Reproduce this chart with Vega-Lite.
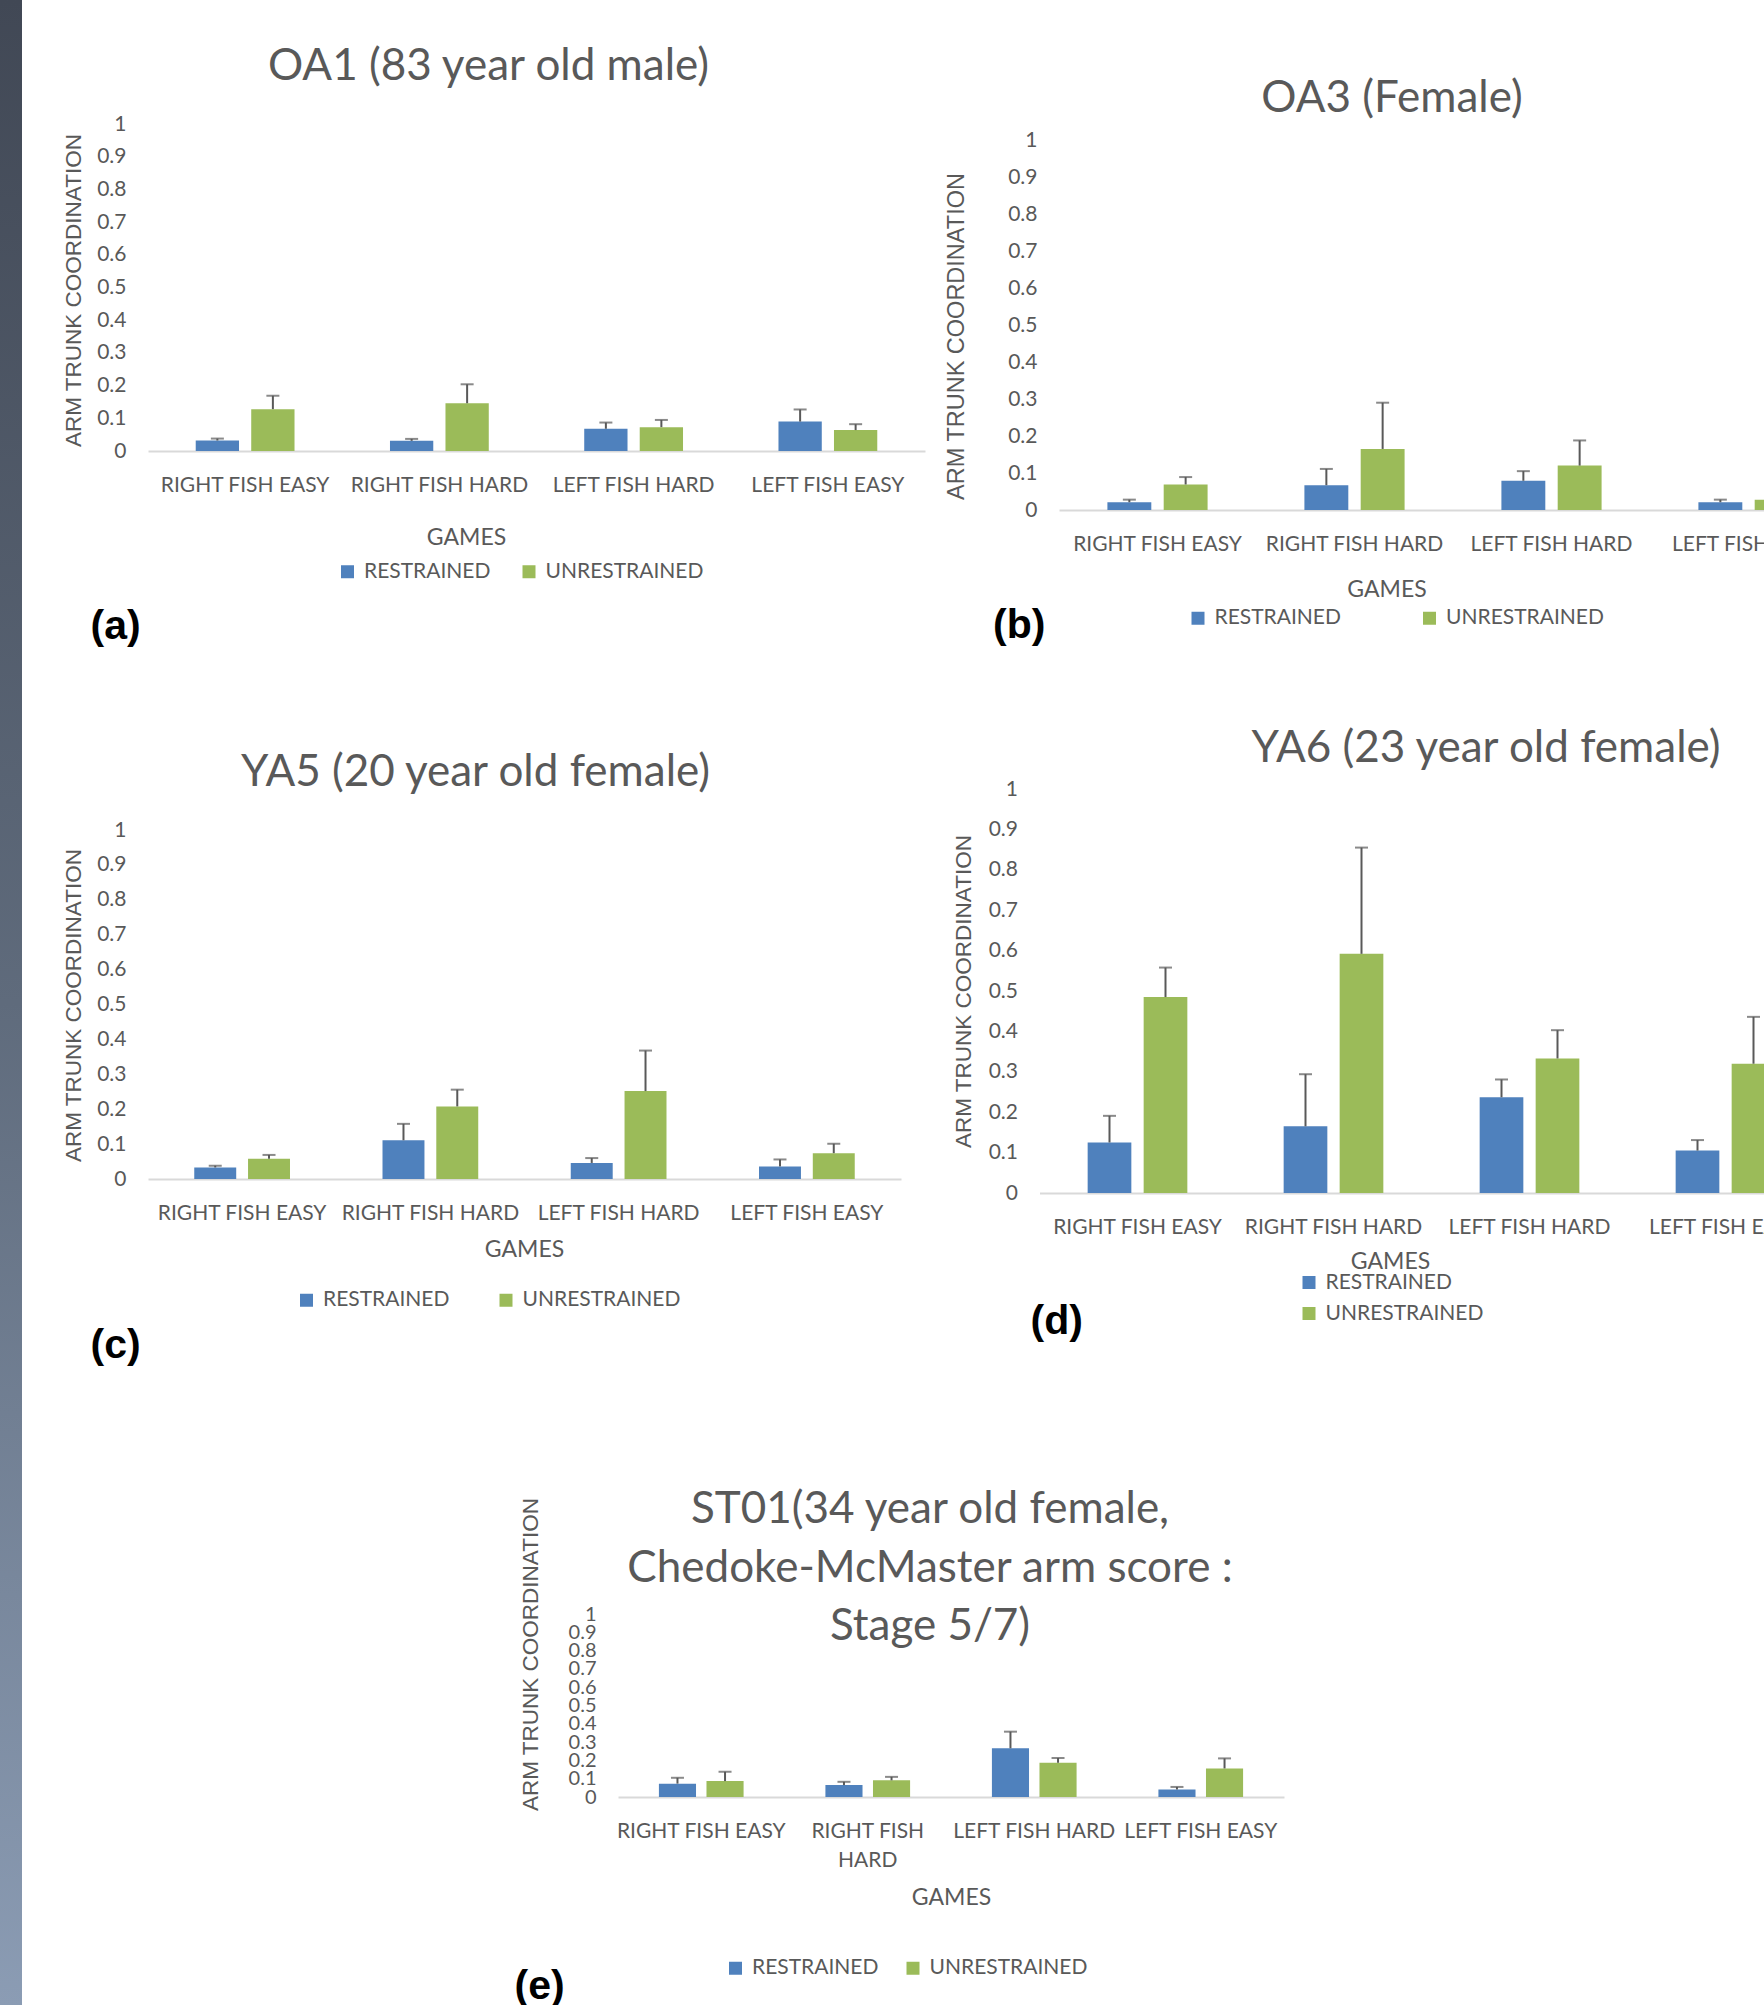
{
  "$schema": "https://vega.github.io/schema/vega-lite/v6.json",
  "padding": 0,
  "background": "white",
  "datasets": {
    "A": [
      {"game": "RIGHT FISH EASY", "cond": "RESTRAINED", "mean": 0.032, "upper": 0.038},
      {"game": "RIGHT FISH EASY", "cond": "UNRESTRAINED", "mean": 0.128, "upper": 0.169},
      {"game": "RIGHT FISH HARD", "cond": "RESTRAINED", "mean": 0.031, "upper": 0.037},
      {"game": "RIGHT FISH HARD", "cond": "UNRESTRAINED", "mean": 0.146, "upper": 0.204},
      {"game": "LEFT FISH HARD", "cond": "RESTRAINED", "mean": 0.068, "upper": 0.087},
      {"game": "LEFT FISH HARD", "cond": "UNRESTRAINED", "mean": 0.073, "upper": 0.095},
      {"game": "LEFT FISH EASY", "cond": "RESTRAINED", "mean": 0.090, "upper": 0.127},
      {"game": "LEFT FISH EASY", "cond": "UNRESTRAINED", "mean": 0.064, "upper": 0.082}
    ],
    "B": [
      {"game": "RIGHT FISH EASY", "cond": "RESTRAINED", "mean": 0.021, "upper": 0.028},
      {"game": "RIGHT FISH EASY", "cond": "UNRESTRAINED", "mean": 0.069, "upper": 0.089},
      {"game": "RIGHT FISH HARD", "cond": "RESTRAINED", "mean": 0.067, "upper": 0.111},
      {"game": "RIGHT FISH HARD", "cond": "UNRESTRAINED", "mean": 0.165, "upper": 0.290},
      {"game": "LEFT FISH HARD", "cond": "RESTRAINED", "mean": 0.079, "upper": 0.105},
      {"game": "LEFT FISH HARD", "cond": "UNRESTRAINED", "mean": 0.120, "upper": 0.188},
      {"game": "LEFT FISH EASY", "cond": "RESTRAINED", "mean": 0.021, "upper": 0.028},
      {"game": "LEFT FISH EASY", "cond": "UNRESTRAINED", "mean": 0.028, "upper": 0.035}
    ],
    "C": [
      {"game": "RIGHT FISH EASY", "cond": "RESTRAINED", "mean": 0.033, "upper": 0.038},
      {"game": "RIGHT FISH EASY", "cond": "UNRESTRAINED", "mean": 0.058, "upper": 0.069},
      {"game": "RIGHT FISH HARD", "cond": "RESTRAINED", "mean": 0.111, "upper": 0.158},
      {"game": "RIGHT FISH HARD", "cond": "UNRESTRAINED", "mean": 0.208, "upper": 0.256},
      {"game": "LEFT FISH HARD", "cond": "RESTRAINED", "mean": 0.046, "upper": 0.060},
      {"game": "LEFT FISH HARD", "cond": "UNRESTRAINED", "mean": 0.252, "upper": 0.368},
      {"game": "LEFT FISH EASY", "cond": "RESTRAINED", "mean": 0.036, "upper": 0.056},
      {"game": "LEFT FISH EASY", "cond": "UNRESTRAINED", "mean": 0.074, "upper": 0.101}
    ],
    "D": [
      {"game": "RIGHT FISH EASY", "cond": "RESTRAINED", "mean": 0.125, "upper": 0.191},
      {"game": "RIGHT FISH EASY", "cond": "UNRESTRAINED", "mean": 0.485, "upper": 0.558},
      {"game": "RIGHT FISH HARD", "cond": "RESTRAINED", "mean": 0.165, "upper": 0.294},
      {"game": "RIGHT FISH HARD", "cond": "UNRESTRAINED", "mean": 0.592, "upper": 0.855},
      {"game": "LEFT FISH HARD", "cond": "RESTRAINED", "mean": 0.237, "upper": 0.281},
      {"game": "LEFT FISH HARD", "cond": "UNRESTRAINED", "mean": 0.333, "upper": 0.403},
      {"game": "LEFT FISH EASY", "cond": "RESTRAINED", "mean": 0.105, "upper": 0.131},
      {"game": "LEFT FISH EASY", "cond": "UNRESTRAINED", "mean": 0.320, "upper": 0.436}
    ],
    "E": [
      {"game": "RIGHT FISH EASY", "cond": "RESTRAINED", "mean": 0.073, "upper": 0.105},
      {"game": "RIGHT FISH EASY", "cond": "UNRESTRAINED", "mean": 0.087, "upper": 0.138},
      {"game": "RIGHT FISH HARD", "cond": "RESTRAINED", "mean": 0.065, "upper": 0.083},
      {"game": "RIGHT FISH HARD", "cond": "UNRESTRAINED", "mean": 0.091, "upper": 0.110},
      {"game": "LEFT FISH HARD", "cond": "RESTRAINED", "mean": 0.266, "upper": 0.357},
      {"game": "LEFT FISH HARD", "cond": "UNRESTRAINED", "mean": 0.187, "upper": 0.213},
      {"game": "LEFT FISH EASY", "cond": "RESTRAINED", "mean": 0.041, "upper": 0.055},
      {"game": "LEFT FISH EASY", "cond": "UNRESTRAINED", "mean": 0.156, "upper": 0.211}
    ],
    "one": [{"s": 1}]
  },
  "bounds": "flush",
  "spacing": 0,
  "resolve": {"scale": {"color": "independent", "xOffset": "independent"}, "legend": {"color": "independent"}},
  "hconcat": [
    {
      "width": 22, "height": 2005,
      "data": {"name": "one"},
      "mark": {"type": "rect", "color": {"gradient": "linear", "x1": 0, "y1": 0, "x2": 0, "y2": 1, "stops": [{"offset": 0, "color": "#414855"}, {"offset": 0.5, "color": "#5f6b7c"}, {"offset": 1, "color": "#8b9cb4"}]}},
      "encoding": {}
    },
    {
      "columns": 2,
      "align": "each",
      "bounds": "flush",
      "spacing": {"row": 0, "column": 114.5},
      "resolve": {"scale": {"color": "independent", "xOffset": "independent"}, "legend": {"color": "independent"}},
      "concat": [
        {
          "width": 903, "height": 451,
          "data": {"name": "A"},
          "title": {"text": "OA1 (83 year old male)", "dx": 15, "offset": -88.5},
          "resolve": {"axis": {"x": "independent"}},
          "encoding": {
            "xOffset": {"field": "cond", "type": "nominal", "sort": ["RESTRAINED", "UNRESTRAINED"], "scale": {"paddingInner": 0.22, "paddingOuter": 0.86}},
            "y": {"field": "mean", "type": "quantitative", "title": "ARM TRUNK COORDINATION", "scale": {"domain": [0, 1], "nice": false, "range": [451, 124]}, "axis": {"offset": -126, "values": [0, 0.1, 0.2, 0.3, 0.4, 0.5, 0.6, 0.7, 0.8, 0.9, 1], "format": ".1~f", "titleX": -75, "titleY": 290}}
          },
          "layer": [
            {"mark": "bar", "encoding": {
              "x": {"field": "game", "type": "nominal", "sort": ["RIGHT FISH EASY", "RIGHT FISH HARD", "LEFT FISH HARD", "LEFT FISH EASY"], "scale": {"paddingInner": 0, "paddingOuter": 0, "range": [126, 903]}, "axis": {"title": "GAMES", "titleX": 444, "titleY": 86}},
              "color": {"field": "cond", "type": "nominal", "scale": {"domain": ["RESTRAINED", "UNRESTRAINED"], "range": ["#4F81BD", "#9BBB59"]}, "legend": {"title": null, "orient": "none", "legendX": 315, "legendY": 561, "direction": "horizontal", "columnPadding": 27.5}}
            }},
            {"mark": {"type": "rule", "color": "#595959", "strokeWidth": 2}, "encoding": {
              "x": {"field": "game", "type": "nominal", "sort": ["RIGHT FISH EASY", "RIGHT FISH HARD", "LEFT FISH HARD", "LEFT FISH EASY"], "axis": null},
              "y2": {"field": "upper"}
            }},
            {"mark": {"type": "tick", "color": "#595959", "thickness": 2, "size": 13}, "encoding": {
              "x": {"field": "game", "type": "nominal", "sort": ["RIGHT FISH EASY", "RIGHT FISH HARD", "LEFT FISH HARD", "LEFT FISH EASY"], "axis": {"orient": "bottom", "title": "(a)", "labels": false, "domain": false, "ticks": false, "titleX": 68, "titleY": 155, "titleFont": "Liberation Sans", "titleFontSize": 41, "titleFontWeight": "bold", "titleColor": "#000000", "titleBaseline": "top", "titleAlign": "left"}},
              "y": {"field": "upper", "type": "quantitative", "title": "ARM TRUNK COORDINATION"}
            }}
          ]
        },
        {
          "width": 808, "height": 510,
          "data": {"name": "B"},
          "title": {"text": "OA3 (Female)", "dx": -51.5, "offset": -121},
          "resolve": {"axis": {"x": "independent"}},
          "encoding": {
            "xOffset": {"field": "cond", "type": "nominal", "sort": ["RESTRAINED", "UNRESTRAINED"], "scale": {"paddingInner": 0.22, "paddingOuter": 0.86}},
            "y": {"field": "mean", "type": "quantitative", "title": "ARM TRUNK  COORDINATION", "scale": {"domain": [0, 1], "nice": false, "range": [510, 140]}, "axis": {"offset": -19.5, "values": [0, 0.1, 0.2, 0.3, 0.4, 0.5, 0.6, 0.7, 0.8, 0.9, 1], "format": ".1~f", "titleX": -103, "titleY": 336, "titleFontSize": 23.5}}
          },
          "layer": [
            {"mark": "bar", "encoding": {
              "x": {"field": "game", "type": "nominal", "sort": ["RIGHT FISH EASY", "RIGHT FISH HARD", "LEFT FISH HARD", "LEFT FISH EASY"], "scale": {"paddingInner": 0, "paddingOuter": 0, "range": [19.5, 807.5]}, "axis": {"title": "GAMES", "titleX": 347, "titleY": 79}},
              "color": {"field": "cond", "type": "nominal", "scale": {"domain": ["RESTRAINED", "UNRESTRAINED"], "range": ["#4F81BD", "#9BBB59"]}, "legend": {"title": null, "orient": "none", "legendX": 148, "legendY": 607.5, "direction": "horizontal", "columnPadding": 77.5}}
            }},
            {"mark": {"type": "rule", "color": "#595959", "strokeWidth": 2}, "encoding": {
              "x": {"field": "game", "type": "nominal", "sort": ["RIGHT FISH EASY", "RIGHT FISH HARD", "LEFT FISH HARD", "LEFT FISH EASY"], "axis": null},
              "y2": {"field": "upper"}
            }},
            {"mark": {"type": "tick", "color": "#595959", "thickness": 2, "size": 13}, "encoding": {
              "x": {"field": "game", "type": "nominal", "sort": ["RIGHT FISH EASY", "RIGHT FISH HARD", "LEFT FISH HARD", "LEFT FISH EASY"], "axis": {"orient": "bottom", "title": "(b)", "labels": false, "domain": false, "ticks": false, "titleX": -47, "titleY": 95, "titleFont": "Liberation Sans", "titleFontSize": 41, "titleFontWeight": "bold", "titleColor": "#000000", "titleBaseline": "top", "titleAlign": "left"}},
              "y": {"field": "upper", "type": "quantitative", "title": "ARM TRUNK  COORDINATION"}
            }}
          ]
        },
        {
          "width": 879, "height": 669,
          "data": {"name": "C"},
          "title": {"text": "YA5 (20 year old female)", "dx": 14, "offset": -284.5},
          "resolve": {"axis": {"x": "independent"}},
          "encoding": {
            "xOffset": {"field": "cond", "type": "nominal", "sort": ["RESTRAINED", "UNRESTRAINED"], "scale": {"paddingInner": 0.22, "paddingOuter": 0.86}},
            "y": {"field": "mean", "type": "quantitative", "title": "ARM TRUNK COORDINATION", "scale": {"domain": [0, 1], "nice": false, "range": [669, 320]}, "axis": {"offset": -126, "values": [0, 0.1, 0.2, 0.3, 0.4, 0.5, 0.6, 0.7, 0.8, 0.9, 1], "format": ".1~f", "titleX": -75, "titleY": 495}}
          },
          "layer": [
            {"mark": "bar", "encoding": {
              "x": {"field": "game", "type": "nominal", "sort": ["RIGHT FISH EASY", "RIGHT FISH HARD", "LEFT FISH HARD", "LEFT FISH EASY"], "scale": {"paddingInner": 0, "paddingOuter": 0, "range": [126, 879]}, "axis": {"title": "GAMES", "titleX": 502, "titleY": 70}},
              "color": {"field": "cond", "type": "nominal", "scale": {"domain": ["RESTRAINED", "UNRESTRAINED"], "range": ["#4F81BD", "#9BBB59"]}, "legend": {"title": null, "orient": "none", "legendX": 274, "legendY": 779.5, "direction": "horizontal", "columnPadding": 45.5}}
            }},
            {"mark": {"type": "rule", "color": "#595959", "strokeWidth": 2}, "encoding": {
              "x": {"field": "game", "type": "nominal", "sort": ["RIGHT FISH EASY", "RIGHT FISH HARD", "LEFT FISH HARD", "LEFT FISH EASY"], "axis": null},
              "y2": {"field": "upper"}
            }},
            {"mark": {"type": "tick", "color": "#595959", "thickness": 2, "size": 13}, "encoding": {
              "x": {"field": "game", "type": "nominal", "sort": ["RIGHT FISH EASY", "RIGHT FISH HARD", "LEFT FISH HARD", "LEFT FISH EASY"], "axis": {"orient": "bottom", "title": "(c)", "labels": false, "domain": false, "ticks": false, "titleX": 68, "titleY": 146, "titleFont": "Liberation Sans", "titleFontSize": 41, "titleFontWeight": "bold", "titleColor": "#000000", "titleBaseline": "top", "titleAlign": "left"}},
              "y": {"field": "upper", "type": "quantitative", "title": "ARM TRUNK COORDINATION"}
            }}
          ]
        },
        {
          "width": 784, "height": 683,
          "data": {"name": "D"},
          "title": {"text": "YA6 (23 year old female)", "dx": 54.5, "offset": -261},
          "resolve": {"axis": {"x": "independent"}},
          "encoding": {
            "xOffset": {"field": "cond", "type": "nominal", "sort": ["RESTRAINED", "UNRESTRAINED"], "scale": {"paddingInner": 0.22, "paddingOuter": 0.86}},
            "y": {"field": "mean", "type": "quantitative", "title": "ARM TRUNK COORDINATION", "scale": {"domain": [0, 1], "nice": false, "range": [683, 279]}, "axis": {"values": [0, 0.1, 0.2, 0.3, 0.4, 0.5, 0.6, 0.7, 0.8, 0.9, 1], "format": ".1~f", "titleX": -76, "titleY": 481}}
          },
          "layer": [
            {"mark": "bar", "encoding": {
              "x": {"field": "game", "type": "nominal", "sort": ["RIGHT FISH EASY", "RIGHT FISH HARD", "LEFT FISH HARD", "LEFT FISH EASY"], "scale": {"paddingInner": 0, "paddingOuter": 0, "range": [0, 784]}, "axis": {"title": "GAMES", "titleX": 350.5, "titleY": 68}},
              "color": {"field": "cond", "type": "nominal", "scale": {"domain": ["RESTRAINED", "UNRESTRAINED"], "range": ["#4F81BD", "#9BBB59"]}, "legend": {"title": null, "orient": "none", "legendX": 259, "legendY": 762, "direction": "vertical", "rowPadding": 9}}
            }},
            {"mark": {"type": "rule", "color": "#595959", "strokeWidth": 2}, "encoding": {
              "x": {"field": "game", "type": "nominal", "sort": ["RIGHT FISH EASY", "RIGHT FISH HARD", "LEFT FISH HARD", "LEFT FISH EASY"], "axis": null},
              "y2": {"field": "upper"}
            }},
            {"mark": {"type": "tick", "color": "#595959", "thickness": 2, "size": 13}, "encoding": {
              "x": {"field": "game", "type": "nominal", "sort": ["RIGHT FISH EASY", "RIGHT FISH HARD", "LEFT FISH HARD", "LEFT FISH EASY"], "axis": {"orient": "bottom", "title": "(d)", "labels": false, "domain": false, "ticks": false, "titleX": -9.5, "titleY": 108, "titleFont": "Liberation Sans", "titleFontSize": 41, "titleFontWeight": "bold", "titleColor": "#000000", "titleBaseline": "top", "titleAlign": "left"}},
              "y": {"field": "upper", "type": "quantitative", "title": "ARM TRUNK COORDINATION"}
            }}
          ]
        },
        {
          "width": 903, "height": 604,
          "data": {"name": "E"},
          "title": {"text": ["ST01(34 year old  female,", "Chedoke-McMaster arm score :", "Stage 5/7)"], "lineHeight": 58.5, "dx": 456.5, "offset": -456},
          "resolve": {"axis": {"x": "independent"}},
          "encoding": {
            "xOffset": {"field": "cond", "type": "nominal", "sort": ["RESTRAINED", "UNRESTRAINED"], "scale": {"paddingInner": 0.22, "paddingOuter": 0.86}},
            "y": {"field": "mean", "type": "quantitative", "title": "ARM TRUNK COORDINATION", "scale": {"domain": [0, 1], "nice": false, "range": [604, 421]}, "axis": {"offset": -596, "values": [0, 0.1, 0.2, 0.3, 0.4, 0.5, 0.6, 0.7, 0.8, 0.9, 1], "format": ".1~f", "titleX": -88, "titleY": 461, "labelFontSize": 20}}
          },
          "layer": [
            {"mark": "bar", "encoding": {
              "x": {"field": "game", "type": "nominal", "sort": ["RIGHT FISH EASY", "RIGHT FISH HARD", "LEFT FISH HARD", "LEFT FISH EASY"], "scale": {"paddingInner": 0, "paddingOuter": 0, "range": [596, 1262]}, "axis": {"title": "GAMES", "titleX": 929, "titleY": 100, "labelLineHeight": 29, "labelExpr": "datum.value == 'RIGHT FISH HARD' ? ['RIGHT FISH', 'HARD'] : datum.value"}},
              "color": {"field": "cond", "type": "nominal", "scale": {"domain": ["RESTRAINED", "UNRESTRAINED"], "range": ["#4F81BD", "#9BBB59"]}, "legend": {"title": null, "orient": "none", "legendX": 703, "legendY": 764.5, "direction": "horizontal", "columnPadding": 23.5}}
            }},
            {"mark": {"type": "rule", "color": "#595959", "strokeWidth": 2}, "encoding": {
              "x": {"field": "game", "type": "nominal", "sort": ["RIGHT FISH EASY", "RIGHT FISH HARD", "LEFT FISH HARD", "LEFT FISH EASY"], "axis": null},
              "y2": {"field": "upper"}
            }},
            {"mark": {"type": "tick", "color": "#595959", "thickness": 2, "size": 13}, "encoding": {
              "x": {"field": "game", "type": "nominal", "sort": ["RIGHT FISH EASY", "RIGHT FISH HARD", "LEFT FISH HARD", "LEFT FISH EASY"], "axis": {"orient": "bottom", "title": "(e)", "labels": false, "domain": false, "ticks": false, "titleX": 492, "titleY": 169, "titleFont": "Liberation Sans", "titleFontSize": 41, "titleFontWeight": "bold", "titleColor": "#000000", "titleBaseline": "top", "titleAlign": "left"}},
              "y": {"field": "upper", "type": "quantitative", "title": "ARM TRUNK COORDINATION"}
            }}
          ]
        }
      ]
    }
  ],
  "config": {
    "view": {"stroke": null},
    "font": "Lato",
    "title": {"font": "Lato", "fontSize": 44, "fontWeight": "normal", "color": "#595959", "anchor": "middle", "frame": "group"},
    "axisX": {"domainColor": "#D9D9D9", "domainWidth": 2, "ticks": false, "tickSize": 0, "grid": false, "labelAngle": 0, "labelFont": "Lato", "labelFontSize": 21, "labelColor": "#595959", "labelPadding": 23, "labelLimit": 300, "titleFont": "Lato", "titleFontSize": 23, "titleFontWeight": "normal", "titleColor": "#595959", "titleBaseline": "middle", "titleAlign": "center"},
    "axisY": {"domain": false, "ticks": false, "tickSize": 0, "grid": false, "labelFont": "Lato", "labelFontSize": 21, "labelColor": "#595959", "labelPadding": 22, "labelOverlap": false, "labelFlush": false, "titleFont": "Liberation Sans", "titleFontSize": 22.5, "titleFontWeight": "normal", "titleColor": "#595959", "titleBaseline": "middle", "titleAlign": "center", "titleAngle": -90},
    "legend": {"symbolType": "square", "symbolSize": 169, "symbolStrokeWidth": 0, "labelFont": "Lato", "labelFontSize": 21, "labelColor": "#595959", "labelOffset": 6, "padding": 0}
  }
}
